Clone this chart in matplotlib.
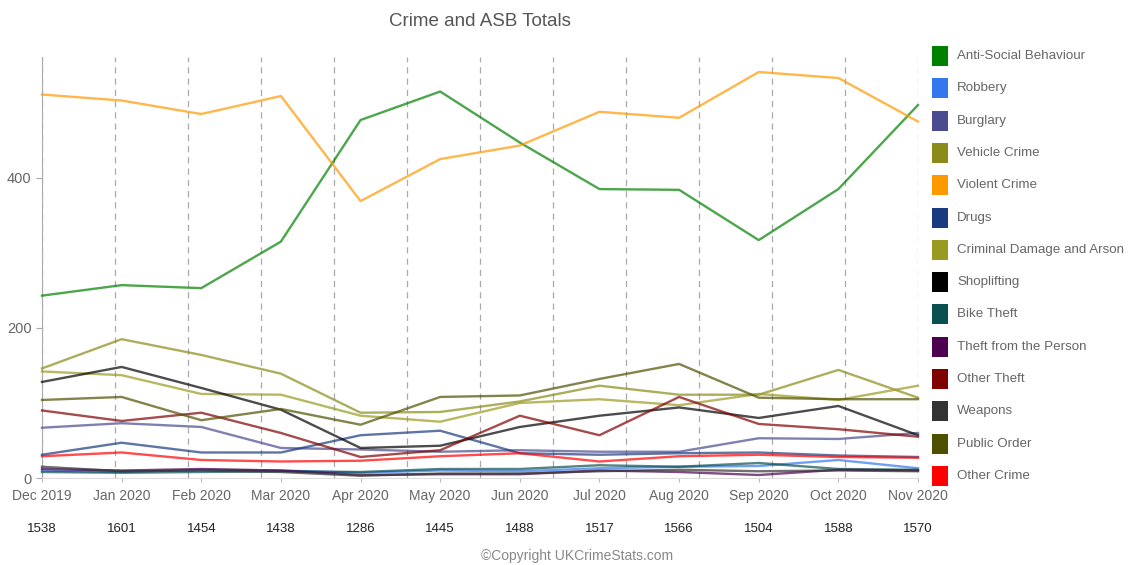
import matplotlib
matplotlib.use("Agg")
import matplotlib.pyplot as plt
from matplotlib.patches import Rectangle
import numpy as np

plt.rcParams['font.family'] = ['Liberation Sans', 'DejaVu Sans']

months = ["Dec 2019", "Jan 2020", "Feb 2020", "Mar 2020", "Apr 2020", "May 2020",
          "Jun 2020", "Jul 2020", "Aug 2020", "Sep 2020", "Oct 2020", "Nov 2020"]
totals = [1538, 1601, 1454, 1438, 1286, 1445, 1488, 1517, 1566, 1504, 1588, 1570]

categories = ["Anti-Social Behaviour", "Robbery", "Burglary", "Vehicle Crime", "Violent Crime",
              "Drugs", "Criminal Damage and Arson", "Shoplifting", "Bike Theft",
              "Theft from the Person", "Other Theft", "Weapons", "Public Order", "Other Crime"]
colors = ["#008000", "#3377ee", "#4b4b8f", "#8b8b1a", "#ff9900", "#1a3a80", "#9a9a20",
          "#000000", "#0a5050", "#4b0050", "#800000", "#333333", "#4f4f00", "#ff0000"]

asb = [243, 257, 253, 315, 477, 515, 447, 385, 384, 317, 385, 497]
robbery = [10, 8, 11, 10, 7, 10, 9, 13, 15, 16, 24, 13]
burglary = [67, 73, 68, 40, 38, 35, 37, 35, 35, 53, 52, 60]
vehicle = [146, 185, 164, 139, 87, 88, 102, 123, 111, 111, 144, 107]
violent = [511, 503, 485, 509, 369, 425, 443, 488, 480, 541, 533, 475]
drugs = [31, 47, 34, 34, 57, 63, 33, 31, 33, 34, 30, 28]
criminal_damage = [142, 137, 112, 111, 83, 75, 100, 105, 97, 112, 104, 123]
shoplifting = [128, 148, 120, 91, 40, 43, 68, 83, 94, 80, 96, 57]
bike_theft = [8, 7, 8, 9, 8, 12, 12, 17, 15, 20, 12, 11]
theft_person = [12, 10, 12, 10, 4, 5, 5, 10, 8, 4, 11, 10]
other_theft = [90, 76, 87, 60, 28, 37, 83, 57, 108, 72, 65, 55]
weapons = [15, 9, 10, 8, 3, 6, 6, 9, 11, 9, 10, 9]
public_order = [104, 108, 77, 92, 71, 108, 110, 132, 152, 107, 105, 105]
other_crime = [29, 34, 24, 22, 23, 29, 33, 22, 29, 31, 28, 27]

series = [asb, robbery, burglary, vehicle, violent, drugs, criminal_damage, shoplifting,
          bike_theft, theft_person, other_theft, weapons, public_order, other_crime]

W, H = 1142, 565
fig = plt.figure(figsize=(W / 100, H / 100), dpi=100)
ax = fig.add_axes([42 / W, 1 - 478 / H, (918 - 42) / W, (478 - 57) / H])

x = np.arange(len(months))
for vals, c in zip(series, colors):
    ax.plot(x, vals, color=c, alpha=0.7, lw=1.7, clip_on=False, zorder=3)

ax.set_xlim(0, 11)
ax.set_ylim(0, 561)

# dashed vertical grid
for g in np.linspace(0, 11, 13):
    ax.axvline(g, color="#aaaaaa", lw=0.9, ls=(0, (5, 4)), zorder=1)

for s in ["top", "right"]:
    ax.spines[s].set_visible(False)
ax.spines["left"].set_color("#aaaaaa")
ax.spines["bottom"].set_color("#dddddd")

ax.set_yticks([0, 200, 400])
ax.set_xticks(x)
ax.set_xticklabels(months)
ax.tick_params(axis="y", colors="#666666", labelsize=10.5, length=4, color="#aaaaaa")
ax.tick_params(axis="x", colors="#666666", labelsize=10, length=3, color="#bbbbbb", pad=5)

for xi, t in zip(x, totals):
    ax.text(xi, -0.121, str(t), transform=ax.get_xaxis_transform(), ha="center", va="center",
            fontsize=9.5, color="#222222")

fig.text(480 / W, 1 - 22 / H, "Crime and ASB Totals", ha="center", va="center",
         fontsize=13.5, color="#555555")
fig.text(577 / W, 1 - 556 / H, "\u00a9Copyright UKCrimeStats.com", ha="center", va="center",
         fontsize=10, color="#888888")

# legend
for i, (name, c) in enumerate(zip(categories, colors)):
    yc = 56 + i * 32.3
    fig.patches.append(Rectangle((932 / W, 1 - (yc + 10) / H), 16 / W, 20 / H,
                                 transform=fig.transFigure, facecolor=c, edgecolor="none"))
    fig.text(957 / W, 1 - yc / H, name, ha="left", va="center", fontsize=9.6, color="#666666")

fig.savefig("out.png", dpi=100)
